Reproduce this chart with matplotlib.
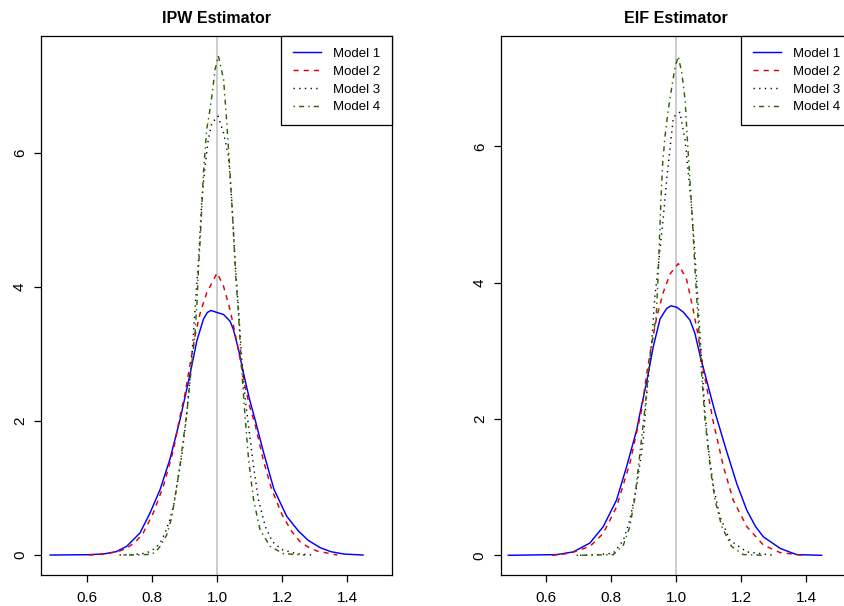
import matplotlib
matplotlib.use("Agg")
import matplotlib.pyplot as plt

plt.rcParams['font.family'] = ['Liberation Sans', 'DejaVu Sans']

titles = ["IPW Estimator", "EIF Estimator"]
model_labels = ["Model 1", "Model 2", "Model 3", "Model 4"]
x_ticks = [0.6, 0.8, 1.0, 1.2, 1.4]
x_tick_labels = ["0.6", "0.8", "1.0", "1.2", "1.4"]
y_ticks = [0, 2, 4, 6]
y_tick_labels = ["0", "2", "4", "6"]
true_value = 1.0

# ---- IPW estimator densities ----
ipw_m1_x = [0.487, 0.60, 0.65, 0.69, 0.722, 0.763, 0.794, 0.825, 0.855, 0.886, 0.917, 0.938, 0.958, 0.97,
            0.981, 1.00, 1.02, 1.04, 1.05, 1.066, 1.081, 1.10, 1.117, 1.143, 1.175, 1.214, 1.25, 1.28,
            1.317, 1.35, 1.39, 1.449]
ipw_m1_y = [0, 0.005, 0.015, 0.05, 0.13, 0.33, 0.63, 0.98, 1.43, 2.02, 2.70, 3.20, 3.52, 3.62,
            3.65, 3.62, 3.59, 3.49, 3.37, 3.07, 2.72, 2.32, 2.02, 1.53, 0.98, 0.58, 0.36, 0.22,
            0.11, 0.05, 0.015, 0]

ipw_m2_x = [0.605, 0.64, 0.671, 0.70, 0.722, 0.75, 0.773, 0.804, 0.835, 0.866, 0.886, 0.902, 0.917,
            0.932, 0.948, 0.968, 1.00, 1.02, 1.04, 1.055, 1.071, 1.086, 1.10, 1.117, 1.143, 1.168,
            1.20, 1.23, 1.255, 1.28, 1.307, 1.37]
ipw_m2_y = [0, 0.01, 0.03, 0.06, 0.10, 0.20, 0.33, 0.63, 1.03, 1.57, 2.07, 2.42, 2.85,
            3.27, 3.61, 3.91, 4.21, 4.01, 3.66, 3.32, 2.92, 2.52, 2.22, 1.95, 1.40, 0.98,
            0.60, 0.35, 0.20, 0.12, 0.06, 0]

ipw_m3_x = [0.70, 0.75, 0.783, 0.81, 0.825, 0.84, 0.855, 0.866, 0.876, 0.892, 0.907, 0.922, 0.932,
            0.943, 0.953, 0.963, 0.973, 0.984, 1.003, 1.02, 1.035, 1.045, 1.055, 1.066, 1.076,
            1.086, 1.097, 1.112, 1.127, 1.148, 1.17, 1.20, 1.245, 1.295]
ipw_m3_y = [0, 0.01, 0.03, 0.10, 0.18, 0.33, 0.53, 0.73, 1.03, 1.50, 2.12, 2.92, 3.66,
            4.41, 5.30, 5.80, 6.20, 6.45, 6.55, 6.30, 5.95, 5.30, 4.41, 3.66, 2.92,
            2.35, 1.92, 1.33, 0.83, 0.43, 0.20, 0.08, 0.02, 0]

ipw_m4_x = [0.712, 0.76, 0.795, 0.81, 0.825, 0.845, 0.86, 0.872, 0.886, 0.896, 0.907, 0.922, 0.932,
            0.938, 0.943, 0.948, 0.953, 0.958, 0.968, 0.975, 0.984, 0.994, 1.004, 1.02, 1.03, 1.04,
            1.05, 1.058, 1.066, 1.076, 1.086, 1.097, 1.112, 1.132, 1.163, 1.204, 1.27]
ipw_m4_y = [0, 0.003, 0.01, 0.04, 0.13, 0.30, 0.55, 0.90, 1.33, 1.72, 2.12, 2.85, 3.30,
            3.75, 4.30, 4.70, 5.20, 5.70, 6.35, 6.55, 6.85, 7.25, 7.45, 7.10, 6.45, 5.70,
            4.86, 4.11, 3.60, 2.75, 2.07, 1.42, 0.83, 0.38, 0.13, 0.02, 0]

# ---- EIF estimator densities ----
eif_m1_x = [0.484, 0.633, 0.684, 0.735, 0.776, 0.817, 0.848, 0.879, 0.889, 0.91, 0.930, 0.951, 0.971,
            0.984, 1.002, 1.022, 1.043, 1.058, 1.074, 1.094, 1.12, 1.151, 1.187, 1.218, 1.245, 1.269,
            1.321, 1.371, 1.448]
eif_m1_y = [0, 0.01, 0.05, 0.18, 0.42, 0.81, 1.30, 1.84, 2.08, 2.55, 3.06, 3.47, 3.62,
            3.66, 3.64, 3.57, 3.45, 3.26, 2.93, 2.57, 2.10, 1.60, 1.05, 0.66, 0.42, 0.27,
            0.10, 0.01, 0]

eif_m2_x = [0.618, 0.674, 0.735, 0.776, 0.817, 0.858, 0.894, 0.910, 0.925, 0.941, 0.961, 0.982,
            1.007, 1.033, 1.053, 1.069, 1.084, 1.10, 1.115, 1.146, 1.176, 1.218, 1.269, 1.32, 1.392]
eif_m2_y = [0, 0.03, 0.13, 0.32, 0.71, 1.35, 2.13, 2.67, 3.10, 3.50, 3.86, 4.13,
            4.28, 4.04, 3.60, 3.20, 2.72, 2.33, 1.95, 1.30, 0.81, 0.42, 0.15, 0.04, 0]

eif_m3_x = [0.705, 0.76, 0.807, 0.838, 0.858, 0.879, 0.899, 0.91, 0.925, 0.935, 0.941, 0.951, 0.961,
            0.971, 0.982, 0.992, 1.012, 1.028, 1.038, 1.048, 1.058, 1.069, 1.079, 1.089, 1.099,
            1.115, 1.135, 1.166, 1.218, 1.30]
eif_m3_y = [0, 0.01, 0.03, 0.22, 0.52, 1.01, 1.69, 2.37, 3.11, 3.80, 4.05, 4.50, 4.96,
            5.50, 5.99, 6.43, 6.50, 6.09, 5.60, 5.11, 4.43, 3.60, 2.86, 2.10, 1.60,
            1.01, 0.57, 0.22, 0.05, 0]

eif_m4_x = [0.694, 0.76, 0.807, 0.838, 0.858, 0.874, 0.889, 0.905, 0.920, 0.932, 0.939, 0.944, 0.949,
            0.954, 0.959, 0.966, 0.976, 0.987, 0.997, 1.007, 1.018, 1.028, 1.035, 1.043, 1.051,
            1.058, 1.066, 1.079, 1.089, 1.105, 1.120, 1.141, 1.171, 1.207, 1.27]
eif_m4_y = [0, 0.005, 0.01, 0.15, 0.42, 0.86, 1.50, 2.18, 2.91, 3.30, 3.50, 3.99, 4.62,
            5.26, 5.75, 6.14, 6.53, 6.87, 7.16, 7.32, 7.07, 6.68, 6.09, 5.50, 4.87,
            4.23, 3.60, 2.65, 2.00, 1.30, 0.81, 0.42, 0.13, 0.01, 0]

panels = [
    [(ipw_m1_x, ipw_m1_y), (ipw_m2_x, ipw_m2_y), (ipw_m3_x, ipw_m3_y), (ipw_m4_x, ipw_m4_y)],
    [(eif_m1_x, eif_m1_y), (eif_m2_x, eif_m2_y), (eif_m3_x, eif_m3_y), (eif_m4_x, eif_m4_y)],
]

colors = ["#0000FF", "#E00000", "#000000", "#2E6400"]
styles = ["-", (0, (3.5, 3.5)), (0, (0.9, 3)), (0, (1, 2.8, 3.5, 2.8))]

W, H = 845, 606
fig = plt.figure(figsize=(W / 100, H / 100), dpi=100)

ax_rects = [
    [41 / W, 1 - 575 / H, 351 / W, (575 - 36) / H],
    [500.7 / W, 1 - 575 / H, 351 / W, (575 - 36) / H],
]
xlims = [(0.4585, 1.538), (0.4606, 1.5406)]
ylims = [(-0.298, 7.747), (-0.289, 7.619)]

for p in range(2):
    ax = fig.add_axes(ax_rects[p])
    ax.axvline(true_value, color="#BEBEBE", lw=1.1, zorder=1)
    for k, (xs, ys) in enumerate(panels[p]):
        ax.plot(xs, ys, color=colors[k], linestyle=styles[k], lw=1.05,
                label=model_labels[k], zorder=2)
    ax.set_xlim(*xlims[p])
    ax.set_ylim(*ylims[p])
    ax.set_xticks(x_ticks)
    ax.set_xticklabels(x_tick_labels)
    ax.set_yticks(y_ticks)
    ax.set_yticklabels(y_tick_labels, rotation=90, va="center")
    ax.tick_params(direction="out", length=5, width=0.9, labelsize=11, pad=5, colors="black")
    ax.tick_params(axis="x", pad=6.5)
    for sp in ax.spines.values():
        sp.set_color("black")
        sp.set_linewidth(0.9)
    ax.set_title(titles[p], fontsize=11.5, fontweight="bold", pad=9.5)
    leg = ax.legend(loc="upper right", bbox_to_anchor=(1, 1), borderaxespad=0,
                    fontsize=9.5, fancybox=False, framealpha=1, edgecolor="black",
                    handlelength=2.1, handletextpad=0.9, labelspacing=0.42, borderpad=0.9)
    leg.get_frame().set_linewidth(0.9)

fig.savefig("out.png", dpi=100)
